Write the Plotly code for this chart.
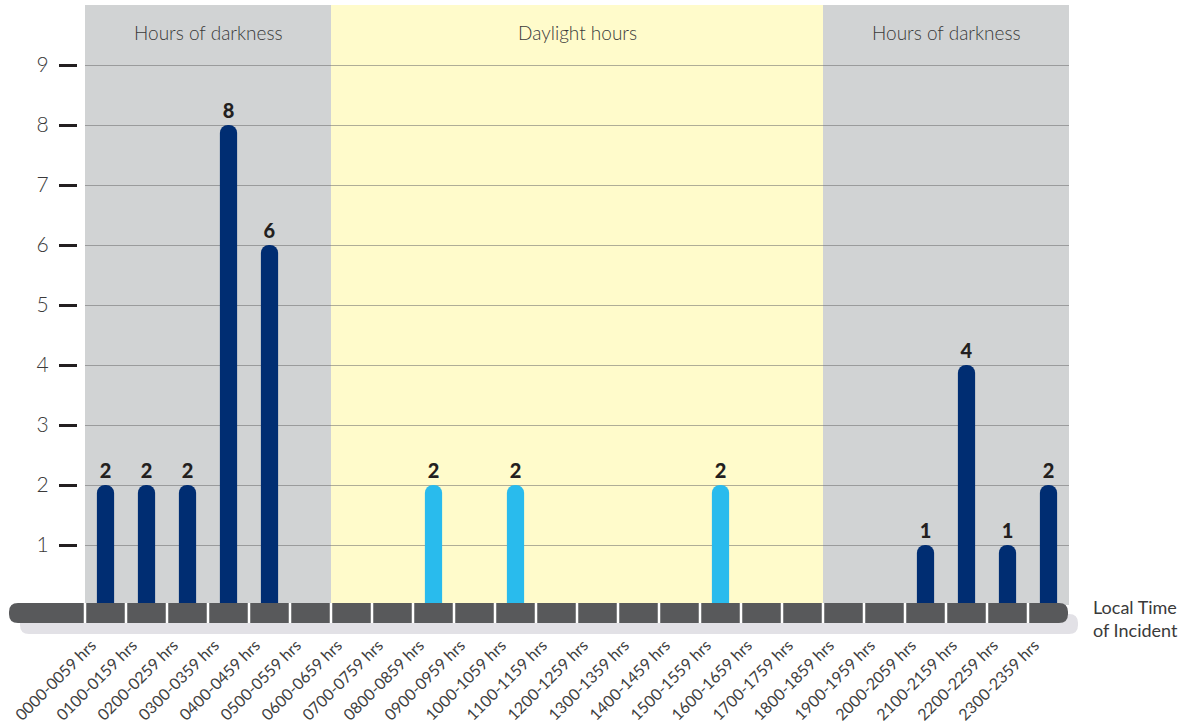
import plotly.graph_objects as go

# ---------------- data ----------------
hour_labels = [f"{h:02d}00-{h:02d}59 hrs" for h in range(24)]
incidents = [2, 2, 2, 8, 6, 0, 0, 0, 2, 0, 2, 0, 0, 0, 0, 2, 0, 0, 0, 0, 1, 4, 1, 2]
daylight_start, daylight_end = 6, 17   # inclusive category indices
y_ticks = [1, 2, 3, 4, 5, 6, 7, 8, 9]
region_titles = ["Hours of darkness", "Daylight hours", "Hours of darkness"]

# ---------------- colours ----------------
DARK_BLUE = "#002d72"
LIGHT_BLUE = "#29bbed"
GREY_BG = "#d1d3d4"
YELLOW_BG = "#fffbcb"
AXIS_BAR = "#58595b"
SHADOW = "#e2e1e6"
TEXT = "#3a3a3a"

# ---------------- layout geometry ----------------
FW, FH = 1203, 728
ML, MR, MT, MB = 60, 134, 5, 123
W = FW - ML - MR
H = FH - MT - MB
PLOT_X0 = 85  # left edge of category area (px)


def px(x):
    return (x - ML) / W


def py(y):
    return (FH - MB - y) / H


def rrect(x0, y0, x1, y1, r):
    pts = [
        ("M", [(x0 + r, y0)]),
        ("L", [(x1 - r, y0)]),
        ("Q", [(x1, y0), (x1, y0 + r)]),
        ("L", [(x1, y1 - r)]),
        ("Q", [(x1, y1), (x1 - r, y1)]),
        ("L", [(x0 + r, y1)]),
        ("Q", [(x0, y1), (x0, y1 - r)]),
        ("L", [(x0, y0 + r)]),
        ("Q", [(x0, y0), (x0 + r, y0)]),
    ]
    s = ""
    for cmd, ps in pts:
        s += cmd + " " + " ".join(f"{px(a):.5f},{py(b):.5f}" for a, b in ps) + " "
    return s + "Z"


n = len(hour_labels)
colors = [LIGHT_BLUE if daylight_start <= i <= daylight_end else DARK_BLUE for i in range(n)]
texts = [str(v) if v else "" for v in incidents]

fig = go.Figure()
fig.add_trace(go.Bar(
    x=list(range(n)),
    y=incidents,
    marker=dict(color=colors, cornerradius="50%", line=dict(width=0)),
    width=0.42,
    text=texts,
    textposition="outside",
    textfont=dict(family="Lato", size=20, color="#231f20", weight=900),
    cliponaxis=False,
    hoverinfo="skip",
))

shapes = []
# background regions
regions = [(-0.5, daylight_start - 0.5, GREY_BG),
           (daylight_start - 0.5, daylight_end + 0.5, YELLOW_BG),
           (daylight_end + 0.5, n - 0.5, GREY_BG)]
for x0, x1, c in regions:
    shapes.append(dict(type="rect", xref="x", yref="y", x0=x0, x1=x1, y0=0, y1=10,
                       fillcolor=c, line=dict(width=0), layer="below"))

# axis bar shadow and bar
shapes.append(dict(type="path", xref="paper", yref="paper",
                   path=rrect(20, 614, 1078, 634, 9), fillcolor=SHADOW,
                   line=dict(width=0), layer="above"))
shapes.append(dict(type="path", xref="paper", yref="paper",
                   path=rrect(9, 603, 1068, 623, 9), fillcolor=AXIS_BAR,
                   line=dict(width=0), layer="above"))
cat_w = (FW - MR - PLOT_X0) / n
for j in range(n):
    xx = PLOT_X0 + cat_w * j
    shapes.append(dict(type="line", xref="paper", yref="paper",
                       x0=px(xx), x1=px(xx), y0=py(603), y1=py(623),
                       line=dict(color="white", width=2.5), layer="above"))

annotations = []
centers = [(daylight_start - 1) / 2, (daylight_start + daylight_end) / 2, (daylight_end + 1 + n - 1) / 2]
for t, cx in zip(region_titles, centers):
    annotations.append(dict(x=cx, xref="x", y=py(33), yref="paper", text=t, showarrow=False,
                            font=dict(family="Lato", size=19, color=TEXT, weight=300),
                            xanchor="center", yanchor="middle"))
annotations.append(dict(x=px(1091), xref="paper", y=py(618), yref="paper",
                        text="Local Time<br>of Incident", showarrow=False, align="left",
                        xanchor="left", yanchor="middle",
                        font=dict(family="Lato", size=18, color=TEXT)))

fig.update_layout(
    width=FW, height=FH,
    margin=dict(l=ML, r=MR, t=MT, b=MB, autoexpand=False),
    paper_bgcolor="white", plot_bgcolor="white",
    showlegend=False,
    shapes=shapes,
    annotations=annotations,
    xaxis=dict(domain=[px(PLOT_X0), 1], range=[-0.5, n - 0.5], automargin=False,
               tickmode="array", tickvals=list(range(n)), ticktext=hour_labels,
               tickangle=-45, showgrid=False, zeroline=False, showline=False,
               ticks="", ticklabelstandoff=27, ticklabelshift=-14,
               tickfont=dict(family="Lato", size=16, color="#404040")),
    yaxis=dict(range=[0, 10], anchor="free", position=px(77), automargin=False,
               tickmode="array", tickvals=y_ticks, ticktext=[str(v) for v in y_ticks],
               ticks="outside", ticklen=18, tickwidth=3, tickcolor="#231f20",
               ticklabelstandoff=6,
               showgrid=True, gridcolor="rgba(110,110,110,0.55)", gridwidth=1,
               zeroline=False, showline=False,
               tickfont=dict(family="Lato", size=21, color=TEXT, weight=300)),
)

fig.write_html("out.html", config={"displayModeBar": False},
               post_script="document.body.style.margin='0';document.body.style.overflow='hidden';")
